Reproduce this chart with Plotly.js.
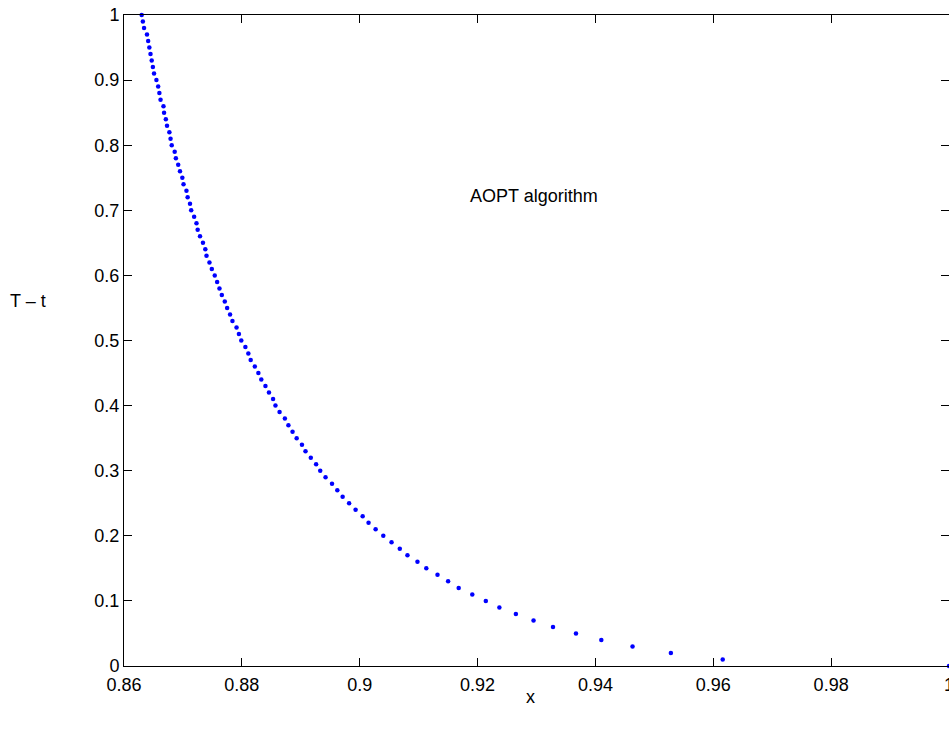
<!DOCTYPE html>
<html>
<head>
<meta charset="utf-8">
<script src="https://cdn.plot.ly/plotly-3.0.1.min.js"></script>
<style>html,body{margin:0;padding:0;background:#fff;}#chart{width:949px;height:731px;}</style>
</head>
<body>
<div id="chart"></div>
<script>
// Remaining time T - t (y) and state x
const timeToGo = [0.00,0.01,0.02,0.03,0.04,0.05,0.06,0.07,0.08,0.09,
  0.10,0.11,0.12,0.13,0.14,0.15,0.16,0.17,0.18,0.19,
  0.20,0.21,0.22,0.23,0.24,0.25,0.26,0.27,0.28,0.29,
  0.30,0.31,0.32,0.33,0.34,0.35,0.36,0.37,0.38,0.39,
  0.40,0.41,0.42,0.43,0.44,0.45,0.46,0.47,0.48,0.49,
  0.50,0.51,0.52,0.53,0.54,0.55,0.56,0.57,0.58,0.59,
  0.60,0.61,0.62,0.63,0.64,0.65,0.66,0.67,0.68,0.69,
  0.70,0.71,0.72,0.73,0.74,0.75,0.76,0.77,0.78,0.79,
  0.80,0.81,0.82,0.83,0.84,0.85,0.86,0.87,0.88,0.89,
  0.90,0.91,0.92,0.93,0.94,0.95,0.96,0.97,0.98,0.99,1.00];
const xBoundary = [1.0000,0.9616,0.9528,0.9463,0.9410,0.9367,0.9328,0.9295,0.9265,0.9237,
  0.9214,0.9191,0.9168,0.9150,0.9132,0.9113,0.9098,0.9081,0.9068,0.9054,
  0.9040,0.9027,0.9015,0.9005,0.8993,0.8982,0.8971,0.8962,0.8953,0.8942,
  0.8933,0.8926,0.8917,0.8908,0.8902,0.8893,0.8886,0.8879,0.8873,0.8864,
  0.8857,0.8853,0.8846,0.8840,0.8833,0.8828,0.8822,0.8815,0.8811,0.8806,
  0.8799,0.8795,0.8791,0.8784,0.8780,0.8775,0.8771,0.8766,0.8762,0.8758,
  0.8754,0.8749,0.8745,0.8740,0.8738,0.8734,0.8729,0.8725,0.8723,0.8719,
  0.8714,0.8712,0.8708,0.8706,0.8701,0.8699,0.8695,0.8692,0.8688,0.8686,
  0.8681,0.8679,0.8677,0.8673,0.8671,0.8668,0.8667,0.8662,0.8660,0.8658,
  0.8655,0.8651,0.8649,0.8647,0.8645,0.8643,0.8641,0.8639,0.8634,0.8632,0.8630];

const xTickVals = [0.86,0.88,0.90,0.92,0.94,0.96,0.98,1.00];
const xTickText = ["0.86","0.88","0.9","0.92","0.94","0.96","0.98","1"];
const yTickVals = [0,0.1,0.2,0.3,0.4,0.5,0.6,0.7,0.8,0.9,1];
const yTickText = ["0","0.1","0.2","0.3","0.4","0.5","0.6","0.7","0.8","0.9","1"];

const FONT = "Liberation Sans, Arial, Helvetica, sans-serif";
const FS = 18;

const trace = {
  x: xBoundary, y: timeToGo, type: 'scatter', mode: 'markers',
  marker: {color: '#0000ff', size: 4.5, line: {width: 0}},
  hoverinfo: 'x+y', showlegend: false, cliponaxis: false
};

const axisCommon = {
  showline: true, linecolor: '#000', linewidth: 1, mirror: 'allticks',
  ticks: 'inside', ticklen: 8, tickcolor: '#000', tickwidth: 1,
  showgrid: false, zeroline: false, ticklabeloverflow: 'allow',
  tickfont: {family: FONT, size: FS, color: '#000'}, tickmode: 'array'
};

const layout = {
  width: 949, height: 731,
  margin: {l: 124, r: 0, t: 15, b: 65, pad: 0},
  paper_bgcolor: '#fff', plot_bgcolor: '#fff',
  font: {family: FONT, size: FS, color: '#000'},
  xaxis: Object.assign({}, axisCommon, {range: [0.86, 1], tickvals: xTickVals, ticktext: xTickText, ticklabelstandoff: 2}),
  yaxis: Object.assign({}, axisCommon, {range: [0, 1], tickvals: yTickVals, ticktext: yTickText}),
  annotations: [
    {text: 'AOPT algorithm', x: 0.9184, y: 0.722, xref: 'x', yref: 'y', xanchor: 'left', yanchor: 'middle', showarrow: false, font: {family: FONT, size: FS, color: '#000'}},
    {text: 'x', x: 0.493, y: -0.0476, xref: 'paper', yref: 'paper', xanchor: 'center', yanchor: 'middle', showarrow: false, font: {family: FONT, size: FS, color: '#000'}},
    {text: 'T – t', x: -0.1164, y: 0.5607, xref: 'paper', yref: 'paper', xanchor: 'center', yanchor: 'middle', showarrow: false, font: {family: FONT, size: FS, color: '#000'}}
  ]
};

Plotly.newPlot('chart', [trace], layout, {displayModeBar: false, staticPlot: true});
</script>
</body>
</html>
